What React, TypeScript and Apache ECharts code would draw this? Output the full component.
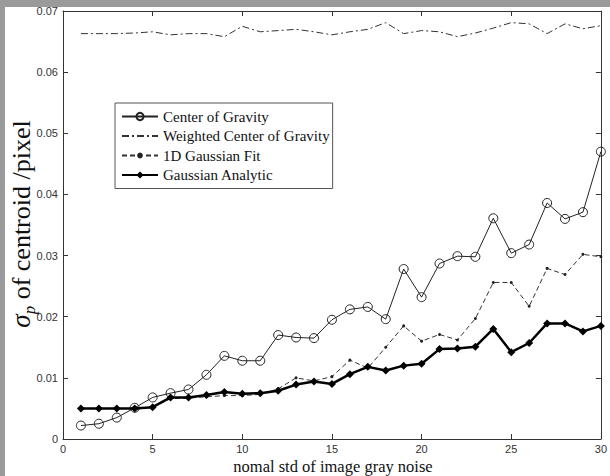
import React, { useEffect, useRef } from "react";
import * as echarts from "echarts";

const noiseStd = [1,2,3,4,5,6,7,8,9,10,11,12,13,14,15,16,17,18,19,20,21,22,23,24,25,26,27,28,29,30];
const centerOfGravity = [0.0022,0.0025,0.0035,0.0051,0.0068,0.0075,0.0081,0.0105,0.0136,0.0128,0.0128,0.0170,0.0166,0.0165,0.0195,0.0212,0.0216,0.0196,0.0278,0.0232,0.0287,0.0299,0.0298,0.0361,0.0304,0.0318,0.0386,0.0360,0.0371,0.0470];
const weightedCoG = [0.0663,0.0663,0.0663,0.0664,0.0666,0.0661,0.0663,0.0663,0.0658,0.0675,0.0666,0.0668,0.0670,0.0666,0.0661,0.0666,0.0670,0.0681,0.0663,0.0668,0.0666,0.0658,0.0664,0.0672,0.0681,0.0679,0.0663,0.0679,0.0671,0.0676];
const gaussianFit1D = [0.0050,0.0050,0.0050,0.0050,0.0052,0.0066,0.0067,0.0069,0.0071,0.0071,0.0073,0.0082,0.0100,0.0095,0.0102,0.0129,0.0116,0.0150,0.0185,0.0160,0.0171,0.0162,0.0197,0.0256,0.0256,0.0217,0.0279,0.0269,0.0302,0.0298];
const gaussianAnalytic = [0.0050,0.0050,0.0050,0.0050,0.0052,0.0068,0.0068,0.0072,0.0077,0.0074,0.0075,0.0079,0.0089,0.0094,0.0090,0.0106,0.0118,0.0112,0.0120,0.0123,0.0147,0.0148,0.0151,0.0180,0.0142,0.0157,0.0189,0.0189,0.0176,0.0185];
const seriesNames = ["Center of Gravity", "Weighted Center of Gravity", "1D Gaussian Fit", "Gaussian Analytic"];
const xTitle = "nomal std of image gray noise";

const pairs = (ys: number[]) => noiseStd.map((x, i) => [x, ys[i]]);

export default function App() {
  const ref = useRef<HTMLDivElement>(null);
  useEffect(() => {
    document.body.style.margin = "0";
    const chart = echarts.init(ref.current!, null, { renderer: "svg" });
    const axisColor = "#333";
    const sans = "Liberation Sans";
    const serif = "Liberation Serif";
    const baseX = {
      type: "value" as const,
      min: 0,
      max: 30,
      interval: 5,
      axisLine: { show: true, onZero: false, lineStyle: { color: axisColor, width: 1 } },
      axisTick: { show: true, inside: true, length: 5, lineStyle: { color: axisColor } },
      splitLine: { show: false },
    };
    const baseY = {
      type: "value" as const,
      min: 0,
      max: 0.07,
      interval: 0.01,
      axisLine: { show: true, onZero: false, lineStyle: { color: axisColor, width: 1 } },
      axisTick: { show: true, inside: true, length: 5, lineStyle: { color: axisColor } },
      splitLine: { show: false },
    };
    chart.setOption({
      animation: false,
      backgroundColor: "#fff",
      grid: { left: 63, top: 11, right: 6, bottom: 37 },
      xAxis: [
        { ...baseX, position: "bottom", axisLabel: { fontSize: 11, color: "#333", fontFamily: sans, margin: 4 } },
        { ...baseX, position: "top", axisLabel: { show: false } },
      ],
      yAxis: [
        {
          ...baseY,
          position: "left",
          axisLabel: {
            fontSize: 11,
            color: "#333",
            fontFamily: sans,
            margin: 5,
            formatter: (v: number) => (v === 0 ? "0" : v.toFixed(2)),
          },
        },
        { ...baseY, position: "right", axisLabel: { show: false } },
      ],
      legend: {
        orient: "vertical",
        left: 115,
        top: 103,
        itemWidth: 36,
        itemHeight: 9,
        itemGap: 4.5,
        padding: [6, 3, 6, 6],
        borderColor: "#555",
        borderWidth: 1,
        backgroundColor: "#fff",
        textStyle: { fontFamily: serif, fontSize: 15, color: "#111" },
        data: [
          { name: seriesNames[0] },
          { name: seriesNames[1], itemStyle: { color: "rgba(0,0,0,0)", borderWidth: 0 } },
          { name: seriesNames[2], itemStyle: { color: "#222", borderColor: "#fff", borderWidth: 1.5 } },
          { name: seriesNames[3] },
        ],
      },
      graphic: [
        { type: "rect", shape: { x: 0, y: 0, width: 610, height: 7 }, style: { fill: "#9a9a9a" }, z: 100 },
        { type: "rect", shape: { x: 0, y: 0, width: 5, height: 476 }, style: { fill: "#9a9a9a" }, z: 100 },
        {
          type: "text",
          x: 333,
          y: 466,
          style: { text: xTitle, font: `16.5px "${serif}"`, fill: "#111", align: "center", verticalAlign: "middle" },
        },
        {
          type: "text",
          x: 21,
          y: 224,
          rotation: Math.PI / 2,
          style: {
            text: "{s|σ}{p|p}{n| of centroid /pixel}",
            align: "center",
            verticalAlign: "middle",
            fill: "#111",
            rich: {
              s: { fontFamily: serif, fontSize: 27, fontStyle: "italic", fill: "#111" },
              p: { fontFamily: serif, fontSize: 17, fontStyle: "italic", fill: "#111", padding: [16, 0, 0, 0] },
              n: { fontFamily: serif, fontSize: 26, fill: "#111" },
            },
          },
        },
      ],
      series: [
        {
          name: seriesNames[0],
          type: "line",
          data: pairs(centerOfGravity),
          symbol: "circle",
          symbolSize: 9,
          lineStyle: { color: "#222", width: 1 },
          itemStyle: { color: "rgba(0,0,0,0)", borderColor: "#222", borderWidth: 1 },
          z: 3,
        },
        {
          name: seriesNames[1],
          type: "line",
          data: pairs(weightedCoG),
          symbol: "none",
          lineStyle: { color: "#333", width: 1, type: [7, 3, 2, 3] },
          itemStyle: { color: "#333" },
          z: 2,
        },
        {
          name: seriesNames[2],
          type: "line",
          data: pairs(gaussianFit1D),
          symbol: "circle",
          symbolSize: 3,
          lineStyle: { color: "#333", width: 1, type: [5, 3] },
          itemStyle: { color: "#222" },
          z: 2,
        },
        {
          name: seriesNames[3],
          type: "line",
          data: pairs(gaussianAnalytic),
          symbol: "diamond",
          symbolSize: 8,
          lineStyle: { color: "#000", width: 2.5 },
          itemStyle: { color: "#000" },
          z: 4,
        },
      ],
    });
    return () => chart.dispose();
  }, []);
  return <div ref={ref} style={{ width: 610, height: 476 }} />;
}
